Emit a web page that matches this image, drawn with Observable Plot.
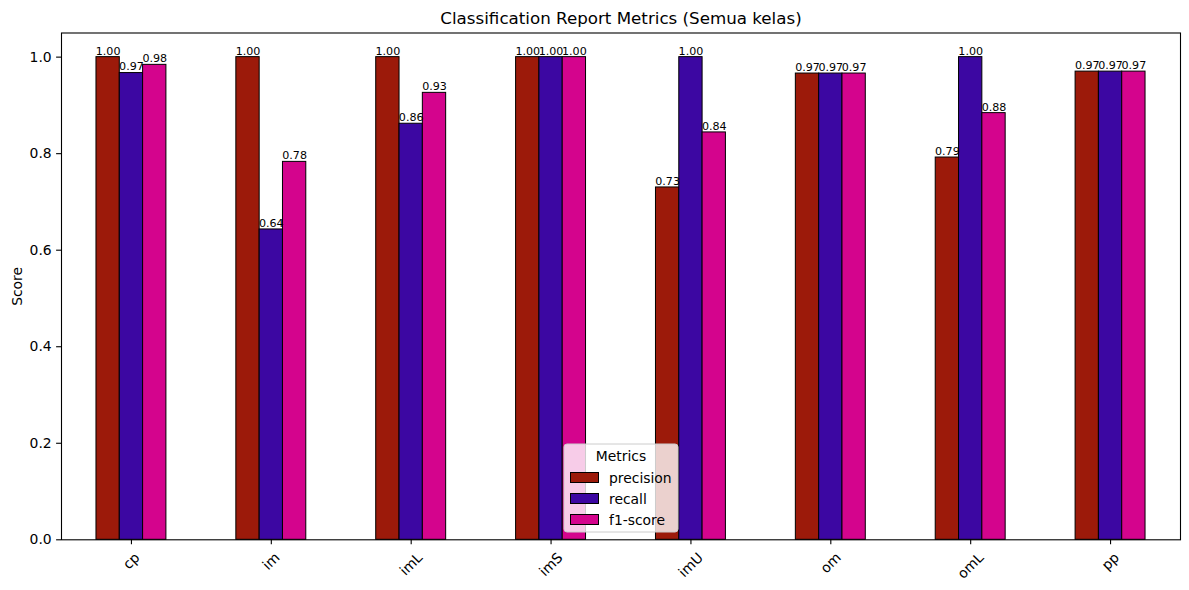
<!DOCTYPE html>
<html>
<head>
<meta charset="utf-8">
<script src="https://cdn.jsdelivr.net/npm/d3@7"></script>
<script src="https://cdn.jsdelivr.net/npm/@observablehq/plot@0.6"></script>
<style>
  body { margin: 0; background: #fff; }
  #chart { width: 1189px; height: 590px; }
</style>
</head>
<body>
<div id="chart"></div>
<script>
// Per-class scores from the classification report
const categories = ["cp", "im", "imL", "imS", "imU", "om", "omL", "pp"];
const metrics = ["precision", "recall", "f1-score"];
const precision = [1.000, 1.000, 1.000, 1.000, 0.730, 0.966, 0.792, 0.970];
const recall    = [0.967, 0.643, 0.862, 1.000, 1.000, 0.966, 1.000, 0.970];
const f1score   = [0.984, 0.783, 0.926, 1.000, 0.844, 0.966, 0.884, 0.970];
const metricColors = ["#9c1a0a", "#3c07a2", "#d4048d"];
const yTicks = [0, 0.2, 0.4, 0.6, 0.8, 1.0];
const titleText = "Classification Report Metrics (Semua kelas)";
const yLabel = "Score";
const legendTitle = "Metrics";

const FONT = "DejaVu Sans";
const series = [precision, recall, f1score];
const groupWidth = 0.5;
const barWidth = groupWidth / metrics.length;

// One row per (class, metric) bar
const rows = [];
categories.forEach((c, ci) => {
  metrics.forEach((m, mi) => {
    const x1 = ci - groupWidth / 2 + mi * barWidth;
    rows.push({category: c, metric: m, value: series[mi][ci], x1, x2: x1 + barWidth});
  });
});

// Measure tick label widths so rotated labels hang below the tick like the classic layout
const ctx = document.createElement("canvas").getContext("2d");
ctx.font = `13.9px "${FONT}"`;
const labelHeight = 13.9 * 1.164;
const tickLabelMarks = categories.map((c, i) =>
  Plot.text([i], {
    x: d => d,
    y: () => 0,
    text: () => c,
    rotate: -45,
    textAnchor: "middle",
    lineAnchor: "middle",
    fontSize: 13.9,
    dy: 9.8 + 0.3536 * (ctx.measureText(c).width + labelHeight)
  })
);

const chart = Plot.plot({
  width: 1189,
  height: 590,
  marginLeft: 61,
  marginRight: 9,
  marginTop: 32.5,
  marginBottom: 50.7,
  style: {fontFamily: FONT, fontSize: "13.9px", background: "white", color: "black", overflow: "visible"},
  x: {domain: [-0.5, categories.length - 0.5]},
  y: {domain: [0, 1.05]},
  color: {domain: metrics, range: metricColors},
  marks: [
    Plot.rectY(rows, {x1: "x1", x2: "x2", y: "value", fill: "metric", stroke: "black", strokeWidth: 1}),
    Plot.text(rows, {
      x: d => (d.x1 + d.x2) / 2,
      y: "value",
      text: d => d.value.toFixed(2),
      fontSize: 11.1,
      lineAnchor: "bottom",
      dy: -2.6
    }),
    Plot.frame({stroke: "black", strokeWidth: 1.1}),
    Plot.axisY({
      ticks: yTicks,
      tickFormat: ".1f",
      tickSize: 4.9,
      tickPadding: 4.9,
      strokeWidth: 1.1,
      fontSize: 13.9,
      label: yLabel,
      labelAnchor: "center",
      labelArrow: "none",
      labelOffset: 49
    }),
    Plot.axisX({
      ticks: d3.range(categories.length),
      tickFormat: () => "",
      tickSize: 4.9,
      strokeWidth: 1.1,
      label: null
    }),
    ...tickLabelMarks,
    Plot.text([titleText], {
      text: d => d,
      frameAnchor: "top",
      lineAnchor: "bottom",
      dy: -9,
      fontSize: 16.7
    })
  ]
});

document.getElementById("chart").appendChild(chart);

// Legend box inside the plot area, bottom centre
const svg = d3.select(chart);
const lg = svg.append("g").attr("font-family", FONT).attr("font-size", 13.9);
lg.append("rect")
  .attr("x", 564).attr("y", 444).attr("width", 114).attr("height", 88)
  .attr("rx", 3).attr("fill", "white").attr("fill-opacity", 0.8)
  .attr("stroke", "#cccccc").attr("stroke-width", 1);
lg.append("text")
  .attr("x", 621).attr("y", 461).attr("text-anchor", "middle")
  .attr("fill", "black").text(legendTitle);
metrics.forEach((m, i) => {
  const cy = 477.5 + i * 21;
  lg.append("rect")
    .attr("x", 570.5).attr("y", cy - 5).attr("width", 28).attr("height", 10)
    .attr("fill", metricColors[i]).attr("stroke", "black").attr("stroke-width", 1);
  lg.append("text")
    .attr("x", 609).attr("y", cy + 5).attr("text-anchor", "start")
    .attr("fill", "black").text(m);
});
</script>
</body>
</html>
